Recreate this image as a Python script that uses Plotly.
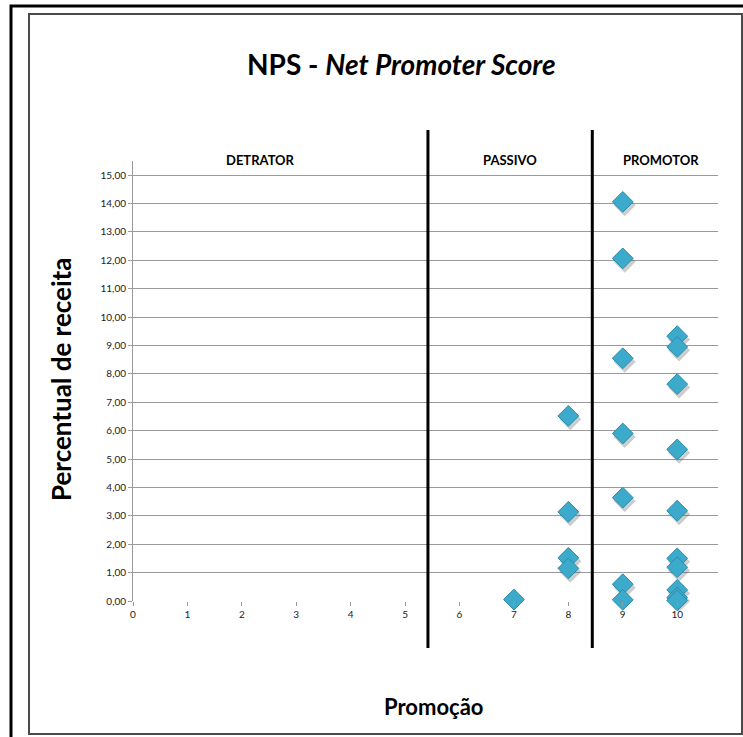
import plotly.graph_objects as go

# Promotion score (0-10) and share of revenue (%) for each respondent
promocao = [7, 8, 8, 8, 8, 9, 9, 9, 9, 9, 9, 9, 10, 10, 10, 10, 10, 10, 10, 10, 10, 10]
receita = [0.05, 6.52, 3.14, 1.52, 1.15,
           14.06, 12.07, 8.55, 5.90, 3.64, 0.59, 0.04,
           9.33, 8.95, 7.64, 5.34, 3.18, 1.50, 1.19, 0.39, 0.12, 0.02]

# NPS segment boundaries and labels
limites = [5.42, 8.44]
segmentos = ["DETRATOR", "PASSIVO", "PROMOTOR"]
pos_segmentos = [2.35, 6.93, 9.7]

x_ticks = list(range(0, 11))
y_ticks = list(range(0, 16))

W, H = 743, 737
L, R, T, B = 133, 25, 161, 136
pw, ph = W - L - R, H - T - B


def px_x(p):
    return (p - L) / pw


def px_y(p):
    return (H - B - p) / ph


fig = go.Figure()

# soft drop shadow under each diamond
fig.add_trace(go.Scatter(
    x=[v + 0.035 for v in promocao], y=[v - 0.12 for v in receita],
    mode="markers", hoverinfo="skip", showlegend=False, cliponaxis=False,
    marker=dict(symbol="diamond", size=17, color="rgba(90,90,90,0.30)",
                line=dict(width=0)),
))
fig.add_trace(go.Scatter(
    x=promocao, y=receita, mode="markers", showlegend=False, cliponaxis=False,
    marker=dict(symbol="diamond", size=16, color="#3CABCB",
                line=dict(color="#2B8AA8", width=1)),
))

shapes = []
# segment dividers
for b in limites:
    shapes.append(dict(type="line", xref="x", yref="paper", x0=b, x1=b,
                       y0=px_y(130), y1=px_y(648),
                       line=dict(color="black", width=3)))
# outer frame
shapes.append(dict(type="rect", xref="paper", yref="paper",
                   x0=px_x(11), x1=px_x(760), y0=px_y(6), y1=px_y(760),
                   line=dict(color="black", width=3), layer="below"))
# inner frame
shapes.append(dict(type="rect", xref="paper", yref="paper",
                   x0=px_x(29), x1=px_x(742), y0=px_y(14), y1=px_y(734),
                   line=dict(color="#4a4a4a", width=2), layer="below"))

annotations = []
for nome, xp in zip(segmentos, pos_segmentos):
    annotations.append(dict(x=xp, y=px_y(160), xref="x", yref="paper",
                            xanchor="center", yanchor="middle",
                            text="<b>" + nome + "</b>", showarrow=False,
                            font=dict(family="Lato", size=13, color="black")))
annotations.append(dict(x=px_x(401), y=px_y(64), xref="paper", yref="paper",
                        xanchor="center", yanchor="middle",
                        text="<b>NPS - <i>Net Promoter Score</i></b>",
                        showarrow=False,
                        font=dict(family="Lato", size=28, color="black")))
annotations.append(dict(x=px_x(433), y=px_y(706), xref="paper", yref="paper",
                        xanchor="center", yanchor="middle",
                        text="<b>Promoção</b>", showarrow=False,
                        font=dict(family="Lato", size=22, color="black")))
annotations.append(dict(x=px_x(61), y=px_y(380), xref="paper", yref="paper",
                        xanchor="center", yanchor="middle",
                        text="<b>Percentual de receita</b>", showarrow=False,
                        textangle=-90,
                        font=dict(family="Lato", size=26, color="black")))

fig.update_layout(
    width=W, height=H,
    margin=dict(l=L, r=R, t=T, b=B),
    paper_bgcolor="white", plot_bgcolor="white",
    separators=",.",
    shapes=shapes, annotations=annotations,
    font=dict(family="Lato", size=10, color="#222"),
    xaxis=dict(range=[0, 10.75], tickmode="array", tickvals=x_ticks,
               showgrid=False, zeroline=False, showline=False,
               ticks="outside", ticklen=4, tickcolor="#999",
               tickfont=dict(size=10, color="#222")),
    yaxis=dict(range=[0, 15.5], tickmode="array", tickvals=y_ticks,
               tickformat=".2f", showgrid=True, gridcolor="#9a9a9a",
               gridwidth=1, zeroline=False, showline=True, linecolor="#999",
               ticks="outside", ticklen=4, tickcolor="#999",
               tickfont=dict(size=10, color="#222")),
)

fig.write_html("out.html")
